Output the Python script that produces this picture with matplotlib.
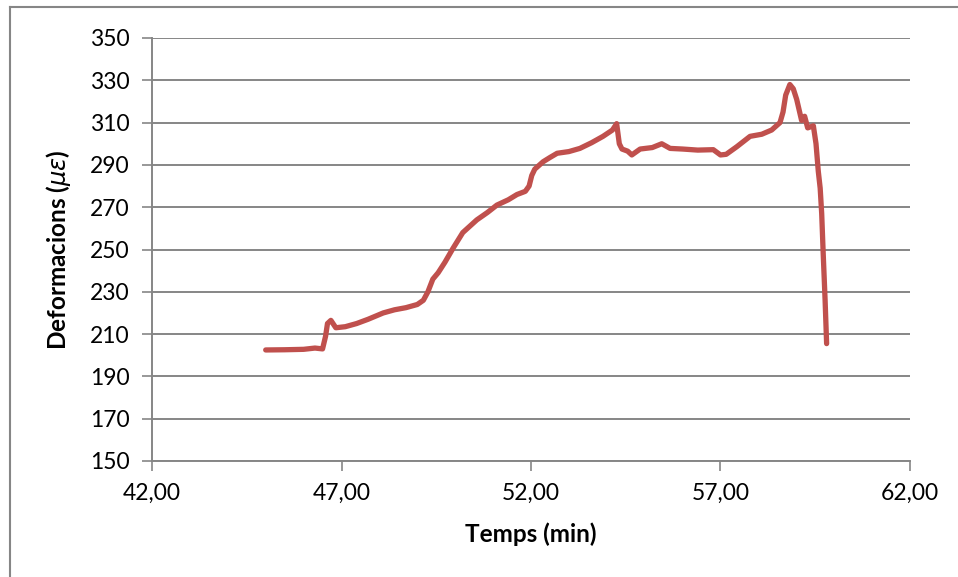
import matplotlib.pyplot as plt
from matplotlib.lines import Line2D

# Data
temps = [45.0, 45.5, 46.0, 46.3, 46.5, 46.58, 46.63, 46.72, 46.85, 47.1,
         47.4, 47.7, 48.1, 48.4, 48.7, 49.0, 49.16, 49.28, 49.41, 49.55,
         49.73, 49.94, 50.2, 50.57, 50.85, 51.1, 51.4, 51.63, 51.85, 51.95,
         52.02, 52.1, 52.32, 52.5, 52.69, 53.0, 53.29, 53.6, 53.9, 54.15,
         54.26, 54.33, 54.4, 54.55, 54.66, 54.88, 55.2, 55.45, 55.67, 56.0,
         56.4, 56.81, 57.0, 57.15, 57.43, 57.78, 58.09, 58.35, 58.57, 58.65,
         58.72, 58.83, 58.92, 59.01, 59.14, 59.22, 59.3, 59.45, 59.52, 59.58,
         59.63, 59.67, 59.71, 59.76, 59.80]
deform = [202.5, 202.6, 202.8, 203.4, 203.0, 209.0, 215.0, 216.5, 213.0, 213.5,
          215.0, 217.0, 220.0, 221.5, 222.5, 224.0, 226.0, 230.0, 236.0, 239.0,
          244.0, 250.5, 258.0, 264.0, 267.5, 271.0, 273.5, 276.0, 277.5, 280.0,
          285.0, 288.0, 291.5, 293.5, 295.5, 296.3, 297.8, 300.5, 303.5, 306.5,
          309.5, 300.0, 297.5, 296.5, 294.7, 297.5, 298.2, 300.0, 297.8, 297.5,
          297.0, 297.2, 294.7, 295.0, 298.6, 303.5, 304.5, 306.5, 310.0, 315.0,
          323.0, 328.0, 326.0, 321.0, 311.0, 313.0, 307.5, 308.5, 300.0, 287.0,
          279.0, 267.0, 248.0, 226.0, 205.5]

xticks = [42, 47, 52, 57, 62]
yticks = list(range(150, 351, 20))

plt.rcParams['font.family'] = ['Lato', 'DejaVu Sans']
grey = '#868686'

fig = plt.figure(figsize=(9.58, 5.77), dpi=100)
ax = fig.add_axes([152 / 958, 116 / 577, 758 / 958, 423 / 577])

ax.plot(temps, deform, color='#C0504D', linewidth=3.8, solid_capstyle='round',
        solid_joinstyle='round')

ax.set_xlim(42, 62)
ax.set_ylim(150, 350)
ax.set_xticks(xticks)
ax.set_xticklabels([f'{v},00' for v in xticks])
ax.set_yticks(yticks)
ax.grid(axis='y', color=grey, linewidth=1.4)
ax.set_axisbelow(True)

for side in ['top', 'right']:
    ax.spines[side].set_visible(False)
for side in ['left', 'bottom']:
    ax.spines[side].set_color(grey)
    ax.spines[side].set_linewidth(1.4)

ax.tick_params(axis='both', colors=grey, labelcolor='black', labelsize=16.5,
               width=1.2, length=7)
ax.tick_params(axis='x', pad=9)
ax.tick_params(axis='y', pad=9)

ax.set_xlabel('Temps (min)', fontsize=17.5, fontweight='bold', labelpad=13)
ax.set_ylabel(r'Deformacions ($\mu\varepsilon$)', fontsize=17.5, fontweight='bold',
              labelpad=12)

# outer chart border (top and left edges visible)
fig.add_artist(Line2D([10 / 958, 1.0], [1 - 7 / 577, 1 - 7 / 577],
                      transform=fig.transFigure, color=grey, linewidth=1.5))
fig.add_artist(Line2D([10 / 958, 10 / 958], [0.0, 1 - 7 / 577],
                      transform=fig.transFigure, color=grey, linewidth=1.5))

fig.savefig('out.png', dpi=100)
